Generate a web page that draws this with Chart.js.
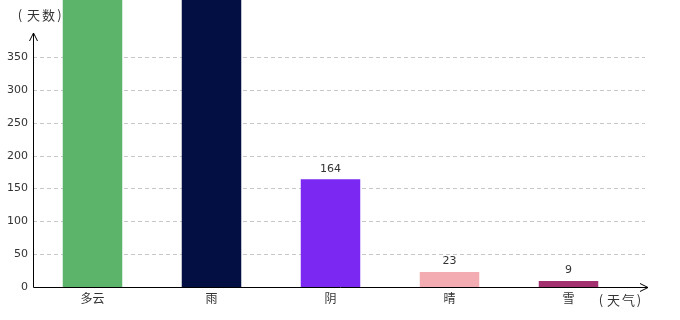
<!DOCTYPE html>
<html>
<head>
<meta charset="utf-8">
<script src="https://cdn.jsdelivr.net/npm/chart.js@4"></script>
<style>
  html, body { margin: 0; padding: 0; background: #fff; }
  #wrap { width: 680px; height: 320px; }
</style>
</head>
<body>
<div id="wrap"><canvas id="weatherChart" width="680" height="320"></canvas></div>
<script>
const categories = ['多云', '雨', '阴', '晴', '雪'];
const days = [450, 460, 164, 23, 9];
const barColors = ['#5cb46b', '#030e42', '#7a28f2', '#f2acb2', '#a3306f'];
const yTicks = [0, 50, 100, 150, 200, 250, 300, 350];

const cnFont = '"Noto Sans CJK SC", "Noto Sans", sans-serif';

// draws a unit text like （天数） with wide, spaced brackets
const drawUnit = (ctx, chars, centers, y) => {
    chars.forEach((c, i) => ctx.fillText(c, centers[i], y));
};

// dashed grid, arrow axes, value labels and unit texts
const decorations = {
    id: 'decorations',
    beforeDatasetsDraw: (chart) => {
        const ctx = chart.ctx;
        const y = chart.scales.y;
        const area = chart.chartArea;
        ctx.save();
        ctx.strokeStyle = '#c8c8c8';
        ctx.lineWidth = 1;
        ctx.setLineDash([4, 3]);
        yTicks.slice(1).forEach(v => {
            const py = Math.round(y.getPixelForValue(v)) + 0.5;
            ctx.beginPath();
            ctx.moveTo(area.left, py);
            ctx.lineTo(645, py);
            ctx.stroke();
        });
        ctx.restore();
    },
    afterDatasetsDraw: (chart) => {
        const ctx = chart.ctx;
        const area = chart.chartArea;
        const x0 = Math.round(area.left) + 0.5;
        const y0 = Math.round(area.bottom) + 0.5;
        ctx.save();
        ctx.strokeStyle = '#000';
        ctx.lineWidth = 1;
        ctx.beginPath();
        ctx.moveTo(x0, y0);
        ctx.lineTo(x0, 33);
        ctx.moveTo(x0 - 4, 41);
        ctx.lineTo(x0, 33);
        ctx.lineTo(x0 + 4, 41);
        ctx.moveTo(x0, y0);
        ctx.lineTo(648, y0);
        ctx.moveTo(640, y0 - 4);
        ctx.lineTo(648, y0);
        ctx.lineTo(640, y0 + 4);
        ctx.stroke();

        // value labels
        ctx.fillStyle = '#333';
        ctx.font = '11px "DejaVu Sans", sans-serif';
        ctx.textAlign = 'center';
        ctx.textBaseline = 'bottom';
        chart.getDatasetMeta(0).data.forEach((bar, i) => {
            if (bar.y > area.top + 14) {
                ctx.fillText(String(days[i]), bar.x, bar.y - 5);
            }
        });

        // unit texts
        ctx.fillStyle = '#333';
        ctx.font = '13px ' + cnFont;
        ctx.textAlign = 'center';
        ctx.textBaseline = 'middle';
        drawUnit(ctx, ['(', '天', '数', ')'], [20, 33.5, 48.5, 59.5], 15);
        drawUnit(ctx, ['(', '天', '气', ')'], [601, 613.5, 628.5, 639], 300);
        ctx.restore();
    }
};

new Chart(document.getElementById('weatherChart').getContext('2d'), {
    type: 'bar',
    data: {
        labels: categories,
        datasets: [{
            data: days,
            backgroundColor: barColors,
            borderWidth: 0,
            barPercentage: 0.5,
            categoryPercentage: 1
        }]
    },
    options: {
        responsive: false,
        animation: false,
        layout: { padding: { left: 0, right: 52, top: 0, bottom: 0 } },
        plugins: {
            legend: { display: false },
            tooltip: { enabled: false }
        },
        scales: {
            x: {
                grid: { display: false, drawTicks: false },
                border: { display: false },
                ticks: {
                    color: '#333',
                    padding: 4,
                    font: { family: cnFont, size: 12 }
                },
                afterFit: (s) => {
                    s.height = 33;
                    s.paddingLeft = 0;
                    s.paddingRight = 0;
                }
            },
            y: {
                min: 0,
                max: 437,
                grid: { display: false, drawTicks: false },
                border: { display: false },
                afterBuildTicks: (s) => { s.ticks = yTicks.map(v => ({ value: v })); },
                ticks: {
                    color: '#333',
                    padding: 5,
                    font: { family: '"DejaVu Sans", sans-serif', size: 11 }
                },
                afterFit: (s) => {
                    s.width = 33;
                    s.paddingTop = 0;
                    s.paddingBottom = 0;
                }
            }
        }
    },
    plugins: [decorations]
});
</script>
</body>
</html>
